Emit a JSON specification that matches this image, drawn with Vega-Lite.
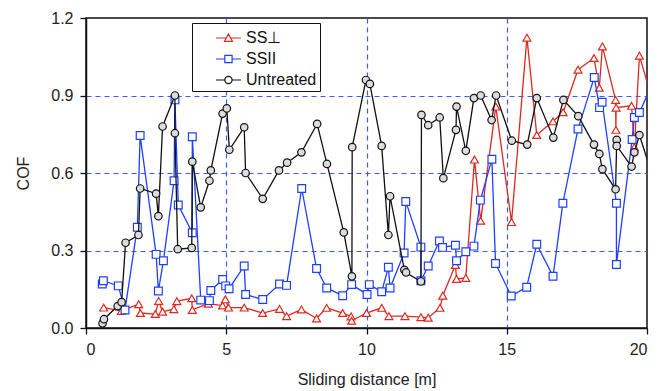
{
  "$schema": "https://vega.github.io/schema/vega-lite/v6.json",
  "width": 561,
  "height": 310,
  "autosize": {"type": "none"},
  "padding": {"left": 86, "top": 18, "right": 23, "bottom": 63},
  "background": "white",
  "config": {
    "font": "Liberation Sans",
    "view": {"stroke": "#111", "strokeWidth": 1.5},
    "axis": {
      "labelFont": "Liberation Sans", "labelFontSize": 16, "labelColor": "#222",
      "titleFont": "Liberation Sans", "titleFontSize": 16, "titleFontWeight": "normal", "titleColor": "#222",
      "domainColor": "#111", "domainWidth": 1.5, "tickColor": "#111", "tickWidth": 1.3, "tickSize": 6,
      "gridColor": "#3b5bff", "gridDash": [5, 4], "gridWidth": 1.2
    }
  },
  "data": {
    "values": [
      {"s": "SS⊥", "i": 1, "d": 0.63, "c": 0.079},
      {"s": "SS⊥", "i": 2, "d": 1.26, "c": 0.066},
      {"s": "SS⊥", "i": 3, "d": 1.88, "c": 0.092},
      {"s": "SS⊥", "i": 4, "d": 1.94, "c": 0.058},
      {"s": "SS⊥", "i": 5, "d": 2.47, "c": 0.054},
      {"s": "SS⊥", "i": 6, "d": 2.59, "c": 0.105},
      {"s": "SS⊥", "i": 7, "d": 2.73, "c": 0.063},
      {"s": "SS⊥", "i": 8, "d": 3.13, "c": 0.073},
      {"s": "SS⊥", "i": 9, "d": 3.24, "c": 0.104},
      {"s": "SS⊥", "i": 10, "d": 3.77, "c": 0.115},
      {"s": "SS⊥", "i": 11, "d": 3.79, "c": 0.07},
      {"s": "SS⊥", "i": 12, "d": 4.36, "c": 0.094},
      {"s": "SS⊥", "i": 13, "d": 4.87, "c": 0.087},
      {"s": "SS⊥", "i": 14, "d": 4.97, "c": 0.111},
      {"s": "SS⊥", "i": 15, "d": 5.08, "c": 0.079},
      {"s": "SS⊥", "i": 16, "d": 5.64, "c": 0.079},
      {"s": "SS⊥", "i": 17, "d": 6.30, "c": 0.058},
      {"s": "SS⊥", "i": 18, "d": 6.90, "c": 0.074},
      {"s": "SS⊥", "i": 19, "d": 7.15, "c": 0.046},
      {"s": "SS⊥", "i": 20, "d": 7.68, "c": 0.072},
      {"s": "SS⊥", "i": 21, "d": 8.22, "c": 0.037},
      {"s": "SS⊥", "i": 22, "d": 8.58, "c": 0.078},
      {"s": "SS⊥", "i": 23, "d": 9.15, "c": 0.058},
      {"s": "SS⊥", "i": 24, "d": 9.45, "c": 0.045},
      {"s": "SS⊥", "i": 25, "d": 9.47, "c": 0.028},
      {"s": "SS⊥", "i": 26, "d": 10.0, "c": 0.058},
      {"s": "SS⊥", "i": 27, "d": 10.54, "c": 0.078},
      {"s": "SS⊥", "i": 28, "d": 10.80, "c": 0.046},
      {"s": "SS⊥", "i": 29, "d": 11.37, "c": 0.046},
      {"s": "SS⊥", "i": 30, "d": 11.94, "c": 0.042},
      {"s": "SS⊥", "i": 31, "d": 12.20, "c": 0.040},
      {"s": "SS⊥", "i": 32, "d": 12.62, "c": 0.078},
      {"s": "SS⊥", "i": 33, "d": 12.72, "c": 0.125},
      {"s": "SS⊥", "i": 34, "d": 13.17, "c": 0.244},
      {"s": "SS⊥", "i": 35, "d": 13.21, "c": 0.19},
      {"s": "SS⊥", "i": 36, "d": 13.54, "c": 0.194},
      {"s": "SS⊥", "i": 37, "d": 13.85, "c": 0.652},
      {"s": "SS⊥", "i": 38, "d": 14.07, "c": 0.415},
      {"s": "SS⊥", "i": 39, "d": 14.61, "c": 0.857},
      {"s": "SS⊥", "i": 40, "d": 15.17, "c": 0.41},
      {"s": "SS⊥", "i": 41, "d": 15.72, "c": 1.124},
      {"s": "SS⊥", "i": 42, "d": 16.07, "c": 0.747},
      {"s": "SS⊥", "i": 43, "d": 16.65, "c": 0.80},
      {"s": "SS⊥", "i": 44, "d": 17.01, "c": 0.835},
      {"s": "SS⊥", "i": 45, "d": 17.54, "c": 1.0},
      {"s": "SS⊥", "i": 46, "d": 18.11, "c": 1.045},
      {"s": "SS⊥", "i": 47, "d": 18.30, "c": 0.93},
      {"s": "SS⊥", "i": 48, "d": 18.41, "c": 1.09},
      {"s": "SS⊥", "i": 49, "d": 18.88, "c": 0.883},
      {"s": "SS⊥", "i": 50, "d": 18.89, "c": 0.767},
      {"s": "SS⊥", "i": 51, "d": 18.90, "c": 0.853},
      {"s": "SS⊥", "i": 52, "d": 19.45, "c": 0.86},
      {"s": "SS⊥", "i": 53, "d": 19.55, "c": 0.70},
      {"s": "SS⊥", "i": 54, "d": 19.73, "c": 1.054},
      {"s": "SS⊥", "i": 55, "d": 20.25, "c": 0.86},
      {"s": "SSII", "i": 1, "d": 0.58, "c": 0.17},
      {"s": "SSII", "i": 2, "d": 0.62, "c": 0.183},
      {"s": "SSII", "i": 3, "d": 1.15, "c": 0.163},
      {"s": "SSII", "i": 4, "d": 1.39, "c": 0.07},
      {"s": "SSII", "i": 5, "d": 1.83, "c": 0.39},
      {"s": "SSII", "i": 6, "d": 1.93, "c": 0.745},
      {"s": "SSII", "i": 7, "d": 2.50, "c": 0.285},
      {"s": "SSII", "i": 8, "d": 2.58, "c": 0.143},
      {"s": "SSII", "i": 9, "d": 2.76, "c": 0.26},
      {"s": "SSII", "i": 10, "d": 3.14, "c": 0.57},
      {"s": "SSII", "i": 11, "d": 3.17, "c": 0.883},
      {"s": "SSII", "i": 12, "d": 3.29, "c": 0.476},
      {"s": "SSII", "i": 13, "d": 3.79, "c": 0.369},
      {"s": "SSII", "i": 14, "d": 3.79, "c": 0.74},
      {"s": "SSII", "i": 15, "d": 4.09, "c": 0.108},
      {"s": "SSII", "i": 16, "d": 4.40, "c": 0.106},
      {"s": "SSII", "i": 17, "d": 4.45, "c": 0.145},
      {"s": "SSII", "i": 18, "d": 4.87, "c": 0.188},
      {"s": "SSII", "i": 19, "d": 4.98, "c": 0.163},
      {"s": "SSII", "i": 20, "d": 5.10, "c": 0.152},
      {"s": "SSII", "i": 21, "d": 5.64, "c": 0.24},
      {"s": "SSII", "i": 22, "d": 5.69, "c": 0.13},
      {"s": "SSII", "i": 23, "d": 6.30, "c": 0.11},
      {"s": "SSII", "i": 24, "d": 6.90, "c": 0.17},
      {"s": "SSII", "i": 25, "d": 7.15, "c": 0.165},
      {"s": "SSII", "i": 26, "d": 7.69, "c": 0.54},
      {"s": "SSII", "i": 27, "d": 8.22, "c": 0.23},
      {"s": "SSII", "i": 28, "d": 8.58, "c": 0.155},
      {"s": "SSII", "i": 29, "d": 9.15, "c": 0.125},
      {"s": "SSII", "i": 30, "d": 9.47, "c": 0.168},
      {"s": "SSII", "i": 31, "d": 10.02, "c": 0.13},
      {"s": "SSII", "i": 32, "d": 10.10, "c": 0.168},
      {"s": "SSII", "i": 33, "d": 10.54, "c": 0.14},
      {"s": "SSII", "i": 34, "d": 10.78, "c": 0.235},
      {"s": "SSII", "i": 35, "d": 10.84, "c": 0.155},
      {"s": "SSII", "i": 36, "d": 11.34, "c": 0.29},
      {"s": "SSII", "i": 37, "d": 11.40, "c": 0.49},
      {"s": "SSII", "i": 38, "d": 11.94, "c": 0.313},
      {"s": "SSII", "i": 39, "d": 11.94, "c": 0.183},
      {"s": "SSII", "i": 40, "d": 12.20, "c": 0.24},
      {"s": "SSII", "i": 41, "d": 12.60, "c": 0.337},
      {"s": "SSII", "i": 42, "d": 12.71, "c": 0.312},
      {"s": "SSII", "i": 43, "d": 13.17, "c": 0.32},
      {"s": "SSII", "i": 44, "d": 13.21, "c": 0.26},
      {"s": "SSII", "i": 45, "d": 13.54, "c": 0.295},
      {"s": "SSII", "i": 46, "d": 13.83, "c": 0.317},
      {"s": "SSII", "i": 47, "d": 14.06, "c": 0.495},
      {"s": "SSII", "i": 48, "d": 14.47, "c": 0.653},
      {"s": "SSII", "i": 49, "d": 14.60, "c": 0.25},
      {"s": "SSII", "i": 50, "d": 15.16, "c": 0.124},
      {"s": "SSII", "i": 51, "d": 15.71, "c": 0.158},
      {"s": "SSII", "i": 52, "d": 16.07, "c": 0.324},
      {"s": "SSII", "i": 53, "d": 16.65, "c": 0.20},
      {"s": "SSII", "i": 54, "d": 17.00, "c": 0.483},
      {"s": "SSII", "i": 55, "d": 17.54, "c": 0.77},
      {"s": "SSII", "i": 56, "d": 18.12, "c": 0.97},
      {"s": "SSII", "i": 57, "d": 18.31, "c": 0.853},
      {"s": "SSII", "i": 58, "d": 18.40, "c": 0.874},
      {"s": "SSII", "i": 59, "d": 18.91, "c": 0.483},
      {"s": "SSII", "i": 60, "d": 18.91, "c": 0.246},
      {"s": "SSII", "i": 61, "d": 19.47, "c": 0.73},
      {"s": "SSII", "i": 62, "d": 19.55, "c": 0.815},
      {"s": "SSII", "i": 63, "d": 19.73, "c": 0.834},
      {"s": "SSII", "i": 64, "d": 20.25, "c": 0.96},
      {"s": "Untreated", "i": 1, "d": 0.59, "c": 0.018},
      {"s": "Untreated", "i": 2, "d": 0.64, "c": 0.034},
      {"s": "Untreated", "i": 3, "d": 1.13, "c": 0.085},
      {"s": "Untreated", "i": 4, "d": 1.27, "c": 0.10},
      {"s": "Untreated", "i": 5, "d": 1.41, "c": 0.33},
      {"s": "Untreated", "i": 6, "d": 1.87, "c": 0.36},
      {"s": "Untreated", "i": 7, "d": 1.93, "c": 0.54},
      {"s": "Untreated", "i": 8, "d": 2.50, "c": 0.52},
      {"s": "Untreated", "i": 9, "d": 2.58, "c": 0.433},
      {"s": "Untreated", "i": 10, "d": 2.73, "c": 0.78},
      {"s": "Untreated", "i": 11, "d": 3.17, "c": 0.90},
      {"s": "Untreated", "i": 12, "d": 3.17, "c": 0.754},
      {"s": "Untreated", "i": 13, "d": 3.27, "c": 0.305},
      {"s": "Untreated", "i": 14, "d": 3.77, "c": 0.31},
      {"s": "Untreated", "i": 15, "d": 3.79, "c": 0.644},
      {"s": "Untreated", "i": 16, "d": 4.09, "c": 0.467},
      {"s": "Untreated", "i": 17, "d": 4.40, "c": 0.57},
      {"s": "Untreated", "i": 18, "d": 4.45, "c": 0.61},
      {"s": "Untreated", "i": 19, "d": 4.87, "c": 0.83},
      {"s": "Untreated", "i": 20, "d": 5.02, "c": 0.85},
      {"s": "Untreated", "i": 21, "d": 5.11, "c": 0.69},
      {"s": "Untreated", "i": 22, "d": 5.64, "c": 0.777},
      {"s": "Untreated", "i": 23, "d": 5.69, "c": 0.60},
      {"s": "Untreated", "i": 24, "d": 6.30, "c": 0.50},
      {"s": "Untreated", "i": 25, "d": 6.88, "c": 0.61},
      {"s": "Untreated", "i": 26, "d": 7.17, "c": 0.64},
      {"s": "Untreated", "i": 27, "d": 7.68, "c": 0.68},
      {"s": "Untreated", "i": 28, "d": 8.24, "c": 0.79},
      {"s": "Untreated", "i": 29, "d": 8.59, "c": 0.635},
      {"s": "Untreated", "i": 30, "d": 9.19, "c": 0.37},
      {"s": "Untreated", "i": 31, "d": 9.48, "c": 0.20},
      {"s": "Untreated", "i": 32, "d": 9.49, "c": 0.70},
      {"s": "Untreated", "i": 33, "d": 9.98, "c": 0.96},
      {"s": "Untreated", "i": 34, "d": 10.12, "c": 0.945},
      {"s": "Untreated", "i": 35, "d": 10.54, "c": 0.705},
      {"s": "Untreated", "i": 36, "d": 10.78, "c": 0.36},
      {"s": "Untreated", "i": 37, "d": 10.84, "c": 0.51},
      {"s": "Untreated", "i": 38, "d": 11.35, "c": 0.225},
      {"s": "Untreated", "i": 39, "d": 11.41, "c": 0.215},
      {"s": "Untreated", "i": 40, "d": 11.94, "c": 0.18},
      {"s": "Untreated", "i": 41, "d": 11.96, "c": 0.825},
      {"s": "Untreated", "i": 42, "d": 12.20, "c": 0.785},
      {"s": "Untreated", "i": 43, "d": 12.61, "c": 0.815},
      {"s": "Untreated", "i": 44, "d": 12.74, "c": 0.58},
      {"s": "Untreated", "i": 45, "d": 13.19, "c": 0.767},
      {"s": "Untreated", "i": 46, "d": 13.21, "c": 0.857},
      {"s": "Untreated", "i": 47, "d": 13.54, "c": 0.686},
      {"s": "Untreated", "i": 48, "d": 13.83, "c": 0.89},
      {"s": "Untreated", "i": 49, "d": 14.07, "c": 0.90},
      {"s": "Untreated", "i": 50, "d": 14.46, "c": 0.805},
      {"s": "Untreated", "i": 51, "d": 14.62, "c": 0.90},
      {"s": "Untreated", "i": 52, "d": 15.18, "c": 0.725},
      {"s": "Untreated", "i": 53, "d": 15.73, "c": 0.71},
      {"s": "Untreated", "i": 54, "d": 16.07, "c": 0.89},
      {"s": "Untreated", "i": 55, "d": 16.66, "c": 0.737},
      {"s": "Untreated", "i": 56, "d": 17.02, "c": 0.883},
      {"s": "Untreated", "i": 57, "d": 17.55, "c": 0.82},
      {"s": "Untreated", "i": 58, "d": 18.11, "c": 0.71},
      {"s": "Untreated", "i": 59, "d": 18.30, "c": 0.674},
      {"s": "Untreated", "i": 60, "d": 18.41, "c": 0.615},
      {"s": "Untreated", "i": 61, "d": 18.88, "c": 0.537},
      {"s": "Untreated", "i": 62, "d": 18.92, "c": 0.728},
      {"s": "Untreated", "i": 63, "d": 18.92, "c": 0.705},
      {"s": "Untreated", "i": 64, "d": 19.45, "c": 0.625},
      {"s": "Untreated", "i": 65, "d": 19.55, "c": 0.68},
      {"s": "Untreated", "i": 66, "d": 19.73, "c": 0.747},
      {"s": "Untreated", "i": 67, "d": 20.25, "c": 0.57}
    ]
  },
  "encoding": {
    "x": {
      "field": "d", "type": "quantitative",
      "scale": {"domain": [0, 20], "nice": false},
      "axis": {
        "values": [0, 5, 10, 15, 20], "title": "Sliding distance [m]",
        "labelPadding": 7, "titlePadding": 14, "grid": true,
        "gridOpacity": {"condition": {"test": "datum.value <= 0 || datum.value >= 20", "value": 0}, "value": 1}
      }
    },
    "y": {
      "field": "c", "type": "quantitative",
      "scale": {"domain": [0, 1.2], "nice": false},
      "axis": {
        "values": [0, 0.3, 0.6, 0.9, 1.2], "format": ".1f", "title": "COF",
        "labelPadding": 7, "titlePadding": 19, "grid": true,
        "gridOpacity": {"condition": {"test": "datum.value <= 0 || datum.value >= 1.2", "value": 0}, "value": 1}
      }
    }
  },
  "layer": [
    {
      "transform": [{"filter": {"field": "s", "equal": "SS⊥"}}],
      "mark": {"type": "line", "strokeWidth": 1.3, "stroke": "#dc2a1f", "clip": true},
      "encoding": {"order": {"field": "i", "type": "quantitative"}}
    },
    {
      "transform": [{"filter": {"field": "s", "equal": "SS⊥"}}],
      "mark": {"type": "point", "shape": "triangle-up", "size": 62, "strokeWidth": 1.2, "filled": false, "fill": "white", "stroke": "#dc2a1f", "opacity": 1, "clip": true}
    },
    {
      "transform": [{"filter": {"field": "s", "equal": "SSII"}}],
      "mark": {"type": "line", "strokeWidth": 1.3, "stroke": "#1f3fff", "clip": true},
      "encoding": {"order": {"field": "i", "type": "quantitative"}}
    },
    {
      "transform": [{"filter": {"field": "s", "equal": "SSII"}}],
      "mark": {"type": "point", "shape": "square", "size": 60, "strokeWidth": 1.2, "filled": false, "fill": "white", "stroke": "#1f3fff", "opacity": 1, "clip": true}
    },
    {
      "transform": [{"filter": {"field": "s", "equal": "Untreated"}}],
      "mark": {"type": "line", "strokeWidth": 1.3, "stroke": "#111111", "clip": true},
      "encoding": {"order": {"field": "i", "type": "quantitative"}}
    },
    {
      "transform": [{"filter": {"field": "s", "equal": "Untreated"}}],
      "mark": {"type": "point", "shape": "circle", "size": 56, "strokeWidth": 1.2, "filled": false, "fill": "#dcdcdc", "stroke": "#111111", "opacity": 1, "clip": true}
    },
    {
      "transform": [{"filter": "false"}],
      "mark": {"type": "point", "filled": false, "strokeWidth": 1.2, "opacity": 1},
      "encoding": {
        "color": {
          "field": "s", "type": "nominal",
          "scale": {"domain": ["SS⊥", "SSII", "Untreated"], "range": ["#dc2a1f", "#1f3fff", "#111111"]},
          "legend": {
            "title": null, "orient": "none", "legendX": 106, "legendY": 5,
            "padding": 3, "strokeColor": "#111", "fillColor": "white",
            "labelFont": "Liberation Sans", "labelFontSize": 16, "labelColor": "#111",
            "symbolSize": 484, "labelOffset": 27, "rowPadding": 1,
            "symbolStrokeWidth": 1.2,
            "labelExpr": "datum.label + '\u00a0\u00a0\u00a0\u00a0\u00a0\u00a0\u00a0\u00a0\u00a0\u00a0'"
          }
        },
        "shape": {
          "field": "s", "type": "nominal",
          "scale": {"domain": ["SS⊥", "SSII", "Untreated"], "range": ["M0.82,0H1.77M2.13,0H3.09M1.59,0.3L1.95,-0.36L2.31,0.3Z", "M0.82,0H1.62M2.28,0H3.09M1.62,-0.33H2.28V0.33H1.62Z", "M0.82,0H1.62M2.28,0H3.09M1.62,0A0.33,0.33,0,1,1,2.28,0A0.33,0.33,0,1,1,1.62,0Z"]},
          "legend": {
            "title": null, "orient": "none", "legendX": 106, "legendY": 5,
            "padding": 3, "strokeColor": "#111", "fillColor": "white",
            "labelFont": "Liberation Sans", "labelFontSize": 16, "labelColor": "#111",
            "symbolSize": 484, "labelOffset": 27, "rowPadding": 1,
            "symbolStrokeWidth": 1.2,
            "labelExpr": "datum.label + '\u00a0\u00a0\u00a0\u00a0\u00a0\u00a0\u00a0\u00a0\u00a0\u00a0'"
          }
        }
      }
    }
  ]
}
